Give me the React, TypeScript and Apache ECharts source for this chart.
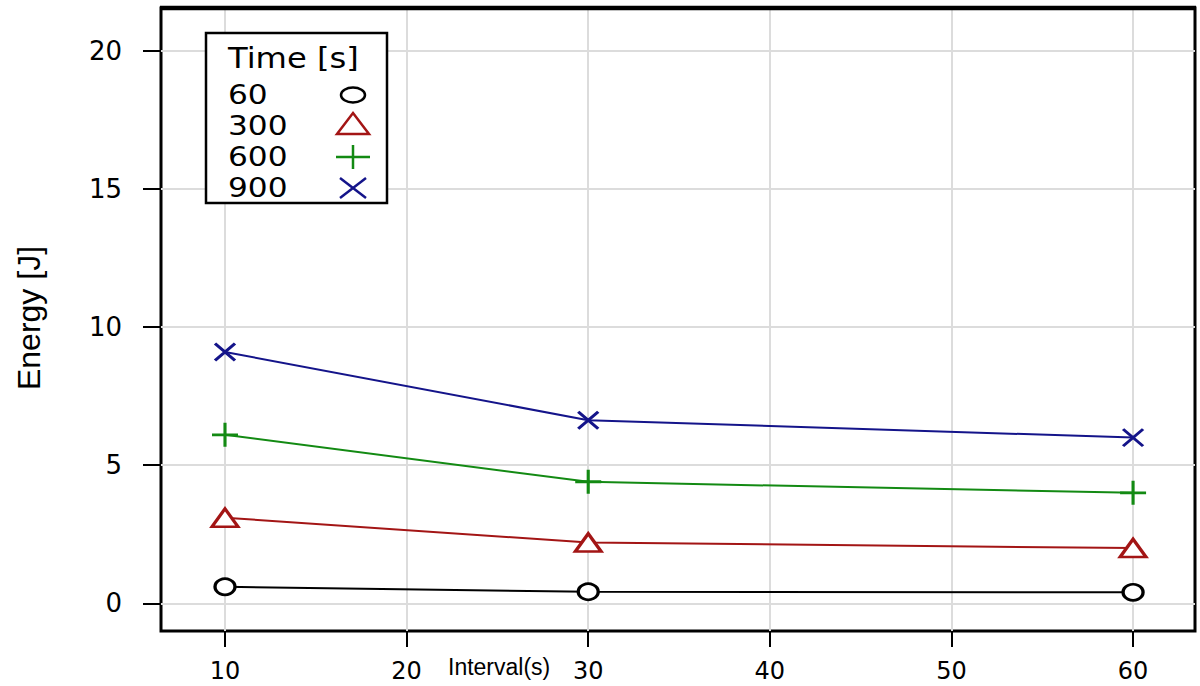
import React, { useEffect, useRef } from "react";
import * as echarts from "echarts";

const intervals = [10, 30, 60];
const seriesNames = ["60", "300", "600", "900"];
const energy60 = [0.6, 0.42, 0.4];
const energy300 = [3.1, 2.2, 2.0];
const energy600 = [6.1, 4.4, 4.0];
const energy900 = [9.1, 6.63, 6.0];
const xTicks = [10, 20, 30, 40, 50, 60];
const yTicks = [0, 5, 10, 15, 20];

const BLACK = "#000000";
const RED = "#a31515";
const GREEN = "#138a13";
const BLUE = "#14148a";

const PLUS = "path://M5 0 L5 10 M0 5 L10 5";
const CROSS = "path://M0 0 L10 10 M10 0 L0 10";

export default function App() {
  const ref = useRef<HTMLDivElement>(null);
  useEffect(() => {
    if (!ref.current) return;
    const chart = echarts.init(ref.current, undefined, { renderer: "svg" });
    const mk = (name: string, data: number[], color: string, symbol: string, size: number[], fill: string, bw: number) => ({
      name,
      type: "line",
      data: intervals.map((x, i) => [x, data[i]]),
      symbol,
      symbolSize: size,
      showAllSymbol: true,
      lineStyle: { color, width: 2 },
      itemStyle: { color: fill, borderColor: color, borderWidth: bw },
      z: 3,
    });
    const legX = 228;
    const symX = 353;
    const rows = [95, 126, 157, 188];
    chart.setOption({
      animation: false,
      backgroundColor: "#ffffff",
      grid: {
        left: 161,
        right: 5,
        top: 8,
        bottom: 55,
        show: true,
        borderColor: "#000",
        borderWidth: 3,
        backgroundColor: "transparent",
      },
      xAxis: {
        type: "value",
        min: 6.476,
        max: 63.41,
        axisLine: { show: false, onZero: false },
        axisTick: { show: true, inside: false, length: 16, customValues: xTicks, lineStyle: { color: "#000", width: 2 } },
        axisLabel: {
          customValues: xTicks,
          margin: 28,
          fontFamily: "DejaVu Sans",
          fontSize: 24,
          color: "#000",
        },
        splitLine: { show: true, lineStyle: { color: "#dcdcdc", width: 2 } },
      },
      yAxis: {
        type: "value",
        min: -1.0,
        max: 21.55,
        axisLine: { show: false, onZero: false },
        axisTick: { show: true, inside: false, length: 18, customValues: yTicks, lineStyle: { color: "#000", width: 2 } },
        axisLabel: {
          customValues: yTicks,
          margin: 39,
          fontFamily: "DejaVu Sans",
          fontSize: 26,
          color: "#000",
        },
        splitLine: { show: true, lineStyle: { color: "#dcdcdc", width: 2 } },
      },
      series: [
        mk(seriesNames[0], energy60, BLACK, "circle", [20, 16], "#fff", 3),
        mk(seriesNames[1], energy300, RED, "triangle", [26, 18], "#fff", 3),
        mk(seriesNames[2], energy600, GREEN, PLUS, [26, 24], GREEN, 3),
        mk(seriesNames[3], energy900, BLUE, CROSS, [20, 17], BLUE, 3),
      ],
      graphic: [
        {
          type: "line",
          shape: { x1: 160, y1: 8, x2: 1196, y2: 8 },
          style: { stroke: "#000", lineWidth: 4.5 },
          z: 5,
        },
        {
          type: "text",
          left: 448,
          top: 655,
          style: { text: "Interval(s)", fontFamily: "Liberation Sans", fontSize: 23, fill: "#000" },
        },
        {
          type: "text",
          x: 29,
          y: 318,
          rotation: Math.PI / 2,
          style: {
            text: "Energy [J]",
            fontFamily: "Liberation Sans",
            fontSize: 32,
            fill: "#000",
            align: "center",
            verticalAlign: "middle",
          },
        },
        {
          type: "rect",
          shape: { x: 206, y: 33, width: 181, height: 170 },
          style: { fill: "#fff", stroke: "#000", lineWidth: 2.5 },
          z: 10,
        },
        {
          type: "text",
          x: legX,
          y: 58,
          z: 11,
          scaleX: 1.15,
          style: { text: "Time [s]", fontFamily: "DejaVu Sans", fontSize: 28, lineHeight: 28, fill: "#000", verticalAlign: "middle" },
        },
        ...seriesNames.map((n, i) => ({
          type: "text",
          x: legX,
          y: rows[i],
          z: 11,
          scaleX: 1.2,
          style: { text: n, fontFamily: "DejaVu Sans", fontSize: 26, lineHeight: 26, fill: "#000", verticalAlign: "middle" },
        })),
        {
          type: "ellipse",
          z: 11,
          shape: { cx: symX, cy: rows[0], rx: 12, ry: 7.5 },
          style: { fill: "none", stroke: BLACK, lineWidth: 2.5 },
        },
        {
          type: "polygon",
          z: 11,
          shape: { points: [[symX, rows[1] - 13], [symX + 16, rows[1] + 8], [symX - 16, rows[1] + 8]] },
          style: { fill: "none", stroke: RED, lineWidth: 2.5 },
        },
        {
          type: "line",
          z: 11,
          shape: { x1: symX - 17, y1: rows[2], x2: symX + 17, y2: rows[2] },
          style: { stroke: GREEN, lineWidth: 2.5 },
        },
        {
          type: "line",
          z: 11,
          shape: { x1: symX, y1: rows[2] - 12, x2: symX, y2: rows[2] + 12 },
          style: { stroke: GREEN, lineWidth: 2.5 },
        },
        {
          type: "line",
          z: 11,
          shape: { x1: symX - 13, y1: rows[3] - 10, x2: symX + 13, y2: rows[3] + 10 },
          style: { stroke: BLUE, lineWidth: 2.5 },
        },
        {
          type: "line",
          z: 11,
          shape: { x1: symX + 13, y1: rows[3] - 10, x2: symX - 13, y2: rows[3] + 10 },
          style: { stroke: BLUE, lineWidth: 2.5 },
        },
      ],
    });
    return () => chart.dispose();
  }, []);
  return <div ref={ref} style={{ position: "fixed", left: 0, top: 0, width: 1200, height: 686 }} />;
}
